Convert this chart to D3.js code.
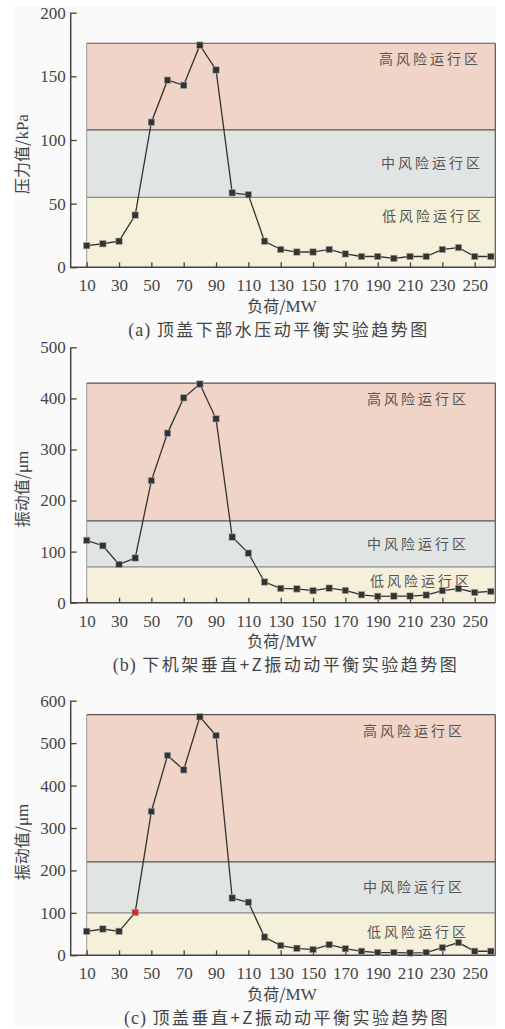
<!DOCTYPE html>
<html>
<head>
<meta charset="utf-8">
<script src="https://cdn.jsdelivr.net/npm/d3@7"></script>
<style>
  html, body { margin: 0; padding: 0; background: #ffffff; }
  svg { display: block; }
  .num { font-family: 'Liberation Serif', 'Times New Roman', serif; }
  .cjk { font-family: 'Noto Sans CJK SC', 'Noto Sans', sans-serif; }
</style>
</head>
<body>
<svg id="chart" width="505" height="1029"></svg>
<script>
// Load levels (MW) shared by all three panels
const loads = [10, 20, 30, 40, 50, 60, 70, 80, 90, 100, 110, 120, 130, 140, 150, 160, 170, 180, 190, 200, 210, 220, 230, 240, 250, 260];
const xTickLabels = [10, 30, 50, 70, 90, 110, 130, 150, 170, 190, 210, 230, 250];

// (a) water pressure under head cover, kPa
const pressureA = [17, 18.5, 20.5, 41, 114, 147, 143, 174.5, 155, 58.5, 57, 20.5, 14, 12, 12, 14, 10.5, 8.5, 8.5, 7, 8.5, 8.5, 14, 15.5, 8.5, 8.5];
const yTicksA = [0, 50, 100, 150, 200];
const bandsA = [55, 108, 176];

// (b) lower bracket vertical + Z vibration, μm
const vibrationB = [122, 111.5, 75, 87.5, 239, 332, 401, 428, 360, 128.5, 97, 40.5, 28, 27, 23.5, 28.5, 24, 15.5, 12.5, 13, 13, 15, 23.5, 27.5, 20, 22];
const yTicksB = [0, 100, 200, 300, 400, 500];
const bandsB = [70, 160, 430];

// (c) head cover vertical + Z vibration, μm
const vibrationC = [56.5, 62, 56.5, 101, 339, 471, 437, 562, 518, 135, 125, 43, 23, 16.5, 13.5, 25, 15.5, 9.5, 6.5, 6.5, 5.5, 6.5, 18, 30, 9.5, 9.5];
const yTicksC = [0, 100, 200, 300, 400, 500, 600];
const bandsC = [100, 220, 567];
const highlightC = [40];

const zoneNames = ["低风险运行区", "中风险运行区", "高风险运行区"];
const zoneColors = ["#f5f0da", "#e0e4e3", "#efd4c7"];

const panels = [
  { values: pressureA, ticks: yTicksA, bands: bandsA, top: 12.7, bottom: 267.3,
    yTitle: ["压力值/", "kPa"], tag: "(a)", caption: "顶盖下部水压动平衡实验趋势图",
    zoneX: [382, 381, 379], captionX: 279, highlight: [] },
  { values: vibrationB, ticks: yTicksB, bands: bandsB, top: 347.3, bottom: 602.7,
    yTitle: ["振动值/", "μm"], tag: "(b)", caption: "下机架垂直+Z振动动平衡实验趋势图",
    zoneX: [370, 367, 367], captionX: 286, highlight: [] },
  { values: vibrationC, ticks: yTicksC, bands: bandsC, top: 700.7, bottom: 955.3,
    yTitle: ["振动值/", "μm"], tag: "(c)", caption: "顶盖垂直+Z振动动平衡实验趋势图",
    zoneX: [367, 363, 363], captionX: 287, highlight: highlightC }
];

const svg = d3.select("#chart");

// faint paper background
svg.append("rect").attr("x", 14).attr("y", 6).attr("width", 482).attr("height", 1021).attr("fill", "#fafafa");

const axisX = 70.7;
const plotRight = 495.3;
const x = d3.scaleLinear().domain([10, 250]).range([86.7, 474.7]);

panels.forEach(p => {
  const yMax = p.ticks[p.ticks.length - 1];
  const y = d3.scaleLinear().domain([0, yMax]).range([p.bottom, p.top]);
  const g = svg.append("g");

  // risk zones
  const edges = [0].concat(p.bands);
  for (let i = 0; i < 3; i++) {
    g.append("rect")
      .attr("x", x(10)).attr("width", plotRight - x(10))
      .attr("y", y(edges[i + 1])).attr("height", y(edges[i]) - y(edges[i + 1]))
      .attr("fill", zoneColors[i]);
  }
  // zone borders
  p.bands.forEach((b, i) => {
    g.append("line").attr("x1", x(10)).attr("x2", plotRight)
      .attr("y1", y(b)).attr("y2", y(b))
      .attr("stroke", i === 0 ? "#8a8a8a" : "#555").attr("stroke-width", 1.2);
  });
  g.append("line").attr("x1", x(10)).attr("x2", x(10))
    .attr("y1", y(p.bands[2])).attr("y2", p.bottom)
    .attr("stroke", "#999").attr("stroke-width", 1);
  g.append("line").attr("x1", plotRight).attr("x2", plotRight)
    .attr("y1", y(p.bands[2])).attr("y2", p.bottom)
    .attr("stroke", "#555").attr("stroke-width", 1.2);

  // zone names
  const mids = [0, 1, 2].map(i => {
    if (i === 2) return y(p.bands[2]) + 16;
    return (y(edges[i]) + y(edges[i + 1])) / 2;
  });
  zoneNames.forEach((name, i) => {
    let cy = mids[i];
    if (i === 0) cy = Math.min(cy, y(p.bands[0]) + 14 + (p.bottom - y(p.bands[0]) > 40 ? 5 : 0));
    g.append("text").attr("class", "cjk").attr("x", p.zoneX[i]).attr("y", cy)
      .attr("dy", "0.35em")
      .style("font-size", "14px")
      .attr("letter-spacing", 3)
      .attr("fill", "#555").text(name);
  });

  // axes
  const yAxis = d3.axisLeft(y).tickValues(p.ticks).tickSize(-6).tickPadding(10).tickSizeOuter(0);
  const ya = g.append("g").attr("transform", `translate(${axisX},0)`).call(yAxis);
  const xs = d3.scaleLinear().domain([10, 250]).range([x(10), x(250)]);
  const xAxis = d3.axisBottom(xs).tickValues(xTickLabels).tickSize(-5).tickPadding(12).tickSizeOuter(0);
  const xa = g.append("g").attr("transform", `translate(0,${p.bottom})`).call(xAxis);

  [ya, xa].forEach(a => {
    a.attr("font-family", null).attr("font-size", null);
    a.select(".domain").remove();
    a.selectAll("line").attr("stroke", "#444").attr("stroke-width", 1.3);
    a.selectAll("text").attr("class", "num").style("font-size", "17px").attr("fill", "#444");
  });
  ya.selectAll("text").attr("x", -5);
  g.append("line").attr("x1", axisX).attr("x2", axisX)
    .attr("y1", p.top).attr("y2", p.bottom + 0.7)
    .attr("stroke", "#444").attr("stroke-width", 1.5);
  g.append("line").attr("x1", axisX).attr("x2", plotRight)
    .attr("y1", p.bottom).attr("y2", p.bottom)
    .attr("stroke", "#444").attr("stroke-width", 1.5);

  // series line and markers
  const line = d3.line().x((d, i) => x(loads[i])).y(d => y(d));
  g.append("path").datum(p.values).attr("d", line)
    .attr("fill", "none").attr("stroke", "#333").attr("stroke-width", 1.3);
  g.selectAll("rect.pt").data(p.values).enter().append("rect")
    .attr("class", "pt")
    .attr("x", (d, i) => x(loads[i]) - 3.2).attr("y", d => y(d) - 3.2)
    .attr("width", 6.4).attr("height", 6.4)
    .attr("fill", (d, i) => p.highlight.includes(loads[i]) ? "#d42a2a" : "#333")
    .attr("stroke", "#aaa").attr("stroke-width", 0.6);

  // y title: CJK part + serif unit
  const yt = g.append("text")
    .attr("transform", `translate(22,${(p.top + p.bottom) / 2 + 14}) rotate(-90)`)
    .attr("text-anchor", "middle").attr("dy", "0.35em")
    .attr("fill", "#444");
  yt.append("tspan").attr("class", "cjk").style("font-size", "16px").text(p.yTitle[0]);
  yt.append("tspan").attr("class", "num").style("font-size", "17px").text(p.yTitle[1]);

  // x title
  const xt = g.append("text").attr("x", 282).attr("y", p.bottom + 39)
    .attr("text-anchor", "middle").attr("dy", "0.35em").attr("fill", "#444");
  xt.append("tspan").attr("class", "cjk").style("font-size", "16px").text("负荷/");
  xt.append("tspan").attr("class", "num").style("font-size", "17px").text("MW");

  // caption
  const ct = g.append("text").attr("x", p.captionX).attr("y", p.bottom + 63)
    .attr("text-anchor", "middle").attr("dy", "0.35em").attr("fill", "#444");
  ct.append("tspan").attr("class", "num").style("font-size", "18px").attr("letter-spacing", 1).text(p.tag + " ");
  ct.append("tspan").attr("class", "cjk").style("font-size", "17px").attr("letter-spacing", 2.5).text(p.caption);
});
</script>
</body>
</html>
